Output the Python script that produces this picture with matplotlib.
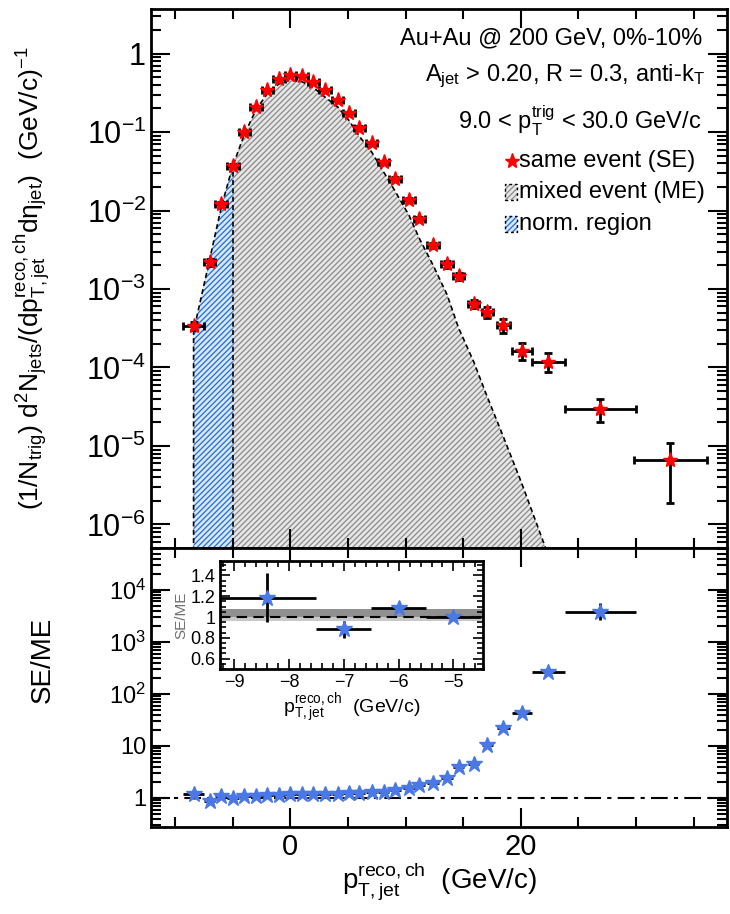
import matplotlib.pyplot as plt
from matplotlib.patches import Rectangle
from matplotlib.ticker import MultipleLocator, LogLocator, FixedLocator, NullFormatter

plt.rcParams['font.family'] = ['Liberation Sans', 'DejaVu Sans']
plt.rcParams['mathtext.fontset'] = 'custom'
plt.rcParams['mathtext.rm'] = 'Liberation Sans'
plt.rcParams['mathtext.it'] = 'Liberation Sans:italic'
plt.rcParams['mathtext.default'] = 'regular'
plt.rcParams['hatch.linewidth'] = 0.9

# same event (SE) spectrum
se_x = [-8.4, -7, -6, -5, -4, -3, -2, -1, 0, 1, 2, 3, 4.1, 5.1, 6.0, 7.05, 8.1, 9.1,
        10.3, 11.2, 12.4, 13.6, 14.6, 15.9, 17.1, 18.5, 20.1, 22.4, 26.9, 33.0]
se_y = [3.4e-4, 2.19e-3, 0.012, 0.037, 0.099, 0.206, 0.343, 0.469, 0.532, 0.517,
        0.437, 0.343, 0.256, 0.176, 0.113, 0.0718, 0.041, 0.0252, 0.0136, 0.0078,
        0.0036, 0.00206, 0.00147, 6.45e-4, 5.05e-4, 3.46e-4, 1.62e-4, 1.18e-4, 3.0e-5, 6.6e-6]
se_lo = [0.4e-4, 0.2e-3, 0.001, 0.002, 0.004, 0.008, 0.012, 0.015, 0.016, 0.016,
         0.014, 0.012, 0.009, 0.007, 0.005, 0.003, 0.002, 0.0013, 0.0008, 0.0005,
         0.0003, 0.0002, 0.00015, 0.8e-4, 0.82e-4, 0.73e-4, 0.37e-4, 0.30e-4, 1.0e-5, 4.7e-6]
se_hi = [0.4e-4, 0.2e-3, 0.001, 0.002, 0.004, 0.008, 0.012, 0.015, 0.016, 0.016,
         0.014, 0.012, 0.009, 0.007, 0.005, 0.003, 0.002, 0.0013, 0.0008, 0.0005,
         0.0003, 0.0002, 0.00015, 0.8e-4, 0.9e-4, 0.64e-4, 0.45e-4, 0.37e-4, 1.0e-5, 4.4e-6]
se_xerr = [0.9, 0.5, 0.5, 0.5, 0.5, 0.5, 0.5, 0.5, 0.5, 0.5, 0.5, 0.5, 0.5, 0.5, 0.5,
           0.5, 0.5, 0.5, 0.5, 0.5, 0.5, 0.5, 0.5, 0.5, 0.5, 0.6, 0.9, 1.45, 3.1, 3.15]

# mixed event (ME) spectrum
me_x = se_x[:28]
me_y = [2.9e-4, 2.4e-3, 0.011, 0.037, 0.093, 0.19, 0.31, 0.41, 0.46, 0.44, 0.37, 0.28,
        0.21, 0.14, 0.088, 0.056, 0.031, 0.0176, 0.0087, 0.0044, 0.0020, 8.5e-4,
        3.2e-4, 1.2e-4, 4.2e-5, 1.3e-5, 3.3e-6, 4.0e-7]
n_norm = 4  # bins in the normalisation region (-8.4 .. -5)

# SE/ME ratio
r_x = se_x[:29]
r_y = [1.18, 0.88, 1.09, 1.0, 1.07, 1.1, 1.12, 1.15, 1.18, 1.2, 1.2, 1.22, 1.22, 1.25,
       1.25, 1.28, 1.32, 1.43, 1.56, 1.78, 1.97, 2.4, 4.0, 4.5, 10.5, 22, 44, 270, 3800]
r_lo = [0.23, 0.08, 0.03, 0.03, 0.02, 0.02, 0.02, 0.02, 0.02, 0.02, 0.02, 0.02, 0.02,
        0.02, 0.03, 0.03, 0.04, 0.05, 0.06, 0.08, 0.1, 0.15, 0.3, 0.4, 1.0, 2.5, 5, 40, 1200]
r_hi = [0.24, 0.08, 0.03, 0.03, 0.02, 0.02, 0.02, 0.02, 0.02, 0.02, 0.02, 0.02, 0.02,
        0.02, 0.03, 0.03, 0.04, 0.05, 0.06, 0.08, 0.1, 0.15, 0.3, 0.4, 1.0, 2.5, 5, 45, 1800]
r_xerr = se_xerr[:29]

floor = 1e-9
gray_face, gray_hatch = '#e6e6e6', '#8a8a8a'
blue_face, blue_hatch = '#d8e6f8', '#1f6fd6'
hatch = '//////'

fig = plt.figure(figsize=(7.3, 9.14), dpi=100)
ax1 = fig.add_axes([0.2068, 0.4004, 0.789, 0.5897])
ax2 = fig.add_axes([0.2068, 0.0952, 0.789, 0.3052])

# ---- top panel ----
ax1.fill_between(me_x, me_y, floor, facecolor=gray_face, edgecolor=gray_hatch,
                 hatch=hatch, linewidth=0)
ax1.fill_between(me_x[:n_norm], me_y[:n_norm], floor, facecolor=blue_face,
                 edgecolor=blue_hatch, hatch=hatch, linewidth=0)
ax1.plot([me_x[0]] + me_x, [floor] + me_y, color='k', ls=(0, (3, 2)), lw=1.2)
ax1.plot([me_x[n_norm - 1]] * 2, [floor, me_y[n_norm - 1]], color='k', ls=(0, (3, 2)), lw=1.2)

ax1.errorbar(se_x, se_y, xerr=se_xerr, yerr=[se_lo, se_hi], fmt='none', ecolor='k',
             elinewidth=2, capsize=3, capthick=2, zorder=3)
ax1.plot(se_x, se_y, '*', color='#ff0000', ms=11, mec='#ff0000', zorder=4)

ax1.set_yscale('log')
ax1.set_xlim(-12.1, 37.9)
ax1.set_ylim(5e-7, 3.7)
ax1.yaxis.set_major_locator(FixedLocator([1e-6, 1e-5, 1e-4, 1e-3, 1e-2, 1e-1, 1]))
ax1.set_yticklabels(['10$^{-6}$', '10$^{-5}$', '10$^{-4}$', '10$^{-3}$', '10$^{-2}$',
                     '10$^{-1}$', '1'], fontsize=22)
ax1.yaxis.set_minor_locator(LogLocator(base=10, subs=range(2, 10), numticks=20))
ax1.yaxis.set_minor_formatter(NullFormatter())
ax1.set_ylabel('(1/N$_{trig}$) d$^{2}$N$_{jets}$/(dp$_{T,jet}^{reco,ch}$dη$_{jet}$)  (GeV/c)$^{-1}$',
               fontsize=19)
ax1.yaxis.set_label_coords(-0.17, 0.5)

ax1.text(0.958, 0.946, 'Au+Au @ 200 GeV, 0%-10%', transform=ax1.transAxes,
         ha='right', va='center', fontsize=17)
ax1.text(0.962, 0.876, 'A$_{jet}$ > 0.20, R = 0.3, anti-k$_{T}$', transform=ax1.transAxes,
         ha='right', va='center', fontsize=17)
ax1.text(0.955, 0.792, '9.0 < p$_{T}^{trig}$ < 30.0 GeV/c', transform=ax1.transAxes,
         ha='right', va='center', fontsize=17)

# legend drawn by hand
leg_x = (512 - 151) / 576
ax1.plot([leg_x], [0.719], '*', color='#ff0000', ms=11, transform=ax1.transAxes, clip_on=False)
ax1.text(leg_x + 0.013, 0.719, 'same event (SE)', transform=ax1.transAxes,
         ha='left', va='center', fontsize=17)
for yb, fc, hc in ((0.645, gray_face, gray_hatch), (0.586, blue_face, blue_hatch)):
    ax1.add_patch(Rectangle((leg_x - 0.012, yb), 0.02, 0.03, transform=ax1.transAxes,
                            facecolor=fc, edgecolor=hc, hatch=hatch, lw=0))
    ax1.add_patch(Rectangle((leg_x - 0.012, yb), 0.02, 0.03, transform=ax1.transAxes,
                            fill=False, edgecolor='k', ls=(0, (2, 2)), lw=1))
ax1.text(leg_x + 0.013, 0.660, 'mixed event (ME)', transform=ax1.transAxes,
         ha='left', va='center', fontsize=17)
ax1.text(leg_x + 0.013, 0.601, 'norm. region', transform=ax1.transAxes,
         ha='left', va='center', fontsize=17)

# ---- bottom panel ----
ax2.axhline(1, color='k', ls=(0, (8, 3, 2, 3)), lw=1.5)
ax2.errorbar(r_x, r_y, xerr=r_xerr, yerr=[r_lo, r_hi], fmt='none', ecolor='k',
             elinewidth=2, capsize=0, zorder=3)
ax2.plot(r_x, r_y, '*', color='#4a78e6', ms=12, mec='#4a78e6', zorder=4)
ax2.set_yscale('log')
ax2.set_xlim(-12.1, 37.9)
ax2.set_ylim(0.277, 6.4e4)
ax2.yaxis.set_major_locator(FixedLocator([1, 10, 100, 1e3, 1e4]))
ax2.set_yticklabels(['1', '10', '10$^{2}$', '10$^{3}$', '10$^{4}$'], fontsize=17)
ax2.yaxis.set_minor_locator(LogLocator(base=10, subs=range(2, 10), numticks=20))
ax2.yaxis.set_minor_formatter(NullFormatter())
ax2.set_ylabel('SE/ME', fontsize=20)
ax2.yaxis.set_label_coords(-0.165, 0.6)
ax2.set_xlabel('p$_{T,jet}^{reco,ch}$  (GeV/c)', fontsize=20, labelpad=0)

for ax in (ax1, ax2):
    ax.xaxis.set_major_locator(MultipleLocator(20))
    ax.xaxis.set_minor_locator(MultipleLocator(5))
    ax.tick_params(which='both', direction='in', top=True, right=True, width=1.5)
    ax.tick_params(which='major', length=14)
    ax.tick_params(which='minor', length=7)
    for s in ax.spines.values():
        s.set_linewidth(2)
ax1.tick_params(axis='x', labelbottom=False)
ax2.tick_params(axis='x', labelsize=21, pad=4)

# ---- inset ----
axi = fig.add_axes([0.3014, 0.2681, 0.3603, 0.1182])
axi.axhspan(0.96, 1.0, color='#c8c8c8', lw=0)
axi.axhspan(1.0, 1.075, color='#909090', lw=0)
axi.axhline(1, color='k', ls=(0, (5, 3)), lw=1.5)
axi.errorbar(r_x[:n_norm], r_y[:n_norm], xerr=r_xerr[:n_norm],
             yerr=[r_lo[:n_norm], r_hi[:n_norm]], fmt='none', ecolor='k', elinewidth=2, capsize=0)
axi.plot(r_x[:n_norm], r_y[:n_norm], '*', color='#4a78e6', ms=12, zorder=4)
axi.set_xlim(-9.26, -4.46)
axi.set_ylim(0.5, 1.54)
axi.xaxis.set_major_locator(MultipleLocator(1))
axi.xaxis.set_minor_locator(MultipleLocator(0.2))
axi.yaxis.set_major_locator(FixedLocator([0.6, 0.8, 1.0, 1.2, 1.4]))
axi.set_yticklabels(['0.6', '0.8', '1', '1.2', '1.4'])
axi.yaxis.set_minor_locator(MultipleLocator(0.05))
axi.tick_params(which='both', direction='in', top=True, right=True, width=1.2, labelsize=13)
axi.tick_params(which='major', length=7)
axi.tick_params(which='minor', length=4)
for s in axi.spines.values():
    s.set_linewidth(2)
axi.set_ylabel('SE/ME', fontsize=11, color='#707070', labelpad=1)
axi.set_xlabel('p$_{T,jet}^{reco,ch}$  (GeV/c)', fontsize=14, labelpad=0)

fig.savefig('out.png', dpi=100)
